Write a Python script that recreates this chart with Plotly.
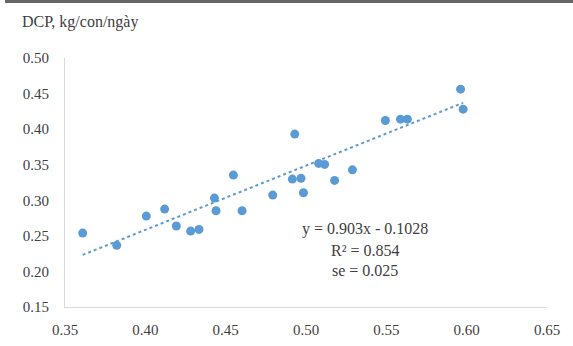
import plotly.graph_objects as go

# Data
x_vals = [0.3610, 0.3822, 0.4006, 0.4120, 0.4193, 0.4282, 0.4334, 0.4430, 0.4440,
          0.4548, 0.4602, 0.4793, 0.4930, 0.4915, 0.4969, 0.4984, 0.5079, 0.5116,
          0.5178, 0.5289, 0.5494, 0.5588, 0.5631, 0.5962, 0.5978]
y_vals = [0.2539, 0.2367, 0.2778, 0.2876, 0.2638, 0.2567, 0.2591, 0.3031, 0.2853,
          0.3354, 0.2853, 0.3073, 0.3930, 0.3298, 0.3308, 0.3106, 0.3518, 0.3504,
          0.3279, 0.3428, 0.4122, 0.4140, 0.4140, 0.4562, 0.4281]

slope = 0.903
intercept = -0.1028
eq_lines = ["y = 0.903x - 0.1028", "R² = 0.854", "se = 0.025"]
y_title = "DCP, kg/con/ngày"
x_ticks = [0.35, 0.40, 0.45, 0.50, 0.55, 0.60, 0.65]
y_ticks = [0.15, 0.20, 0.25, 0.30, 0.35, 0.40, 0.45, 0.50]

BLUE = "#5B9BD5"
TXT = "#404040"
FONT = "Liberation Serif"

x_min, x_max = min(x_vals), max(x_vals)
trend_x = [x_min, x_max]
trend_y = [slope * v + intercept for v in trend_x]

fig = go.Figure()
fig.add_trace(go.Scatter(x=trend_x, y=trend_y, mode="lines",
                         line=dict(color=BLUE, width=2, dash="dot"),
                         hoverinfo="skip", showlegend=False))
fig.add_trace(go.Scatter(x=x_vals, y=y_vals, mode="markers",
                         marker=dict(color=BLUE, size=9, line=dict(width=0)),
                         showlegend=False))

fig.update_layout(
    width=573, height=346,
    margin=dict(l=65, r=26, t=58, b=39),
    paper_bgcolor="white", plot_bgcolor="white",
    font=dict(family=FONT, size=15, color=TXT),
    showlegend=False,
)
fig.update_xaxes(range=[0.35, 0.65], tickvals=x_ticks,
                 ticktext=[f"{v:.2f}" for v in x_ticks],
                 showgrid=False, zeroline=False, automargin=False,
                 showline=True, linecolor="#D9D9D9", linewidth=1,
                 ticks="outside", ticklen=9, tickcolor="rgba(0,0,0,0)",
                 tickfont=dict(family=FONT, size=15, color=TXT))
fig.update_yaxes(range=[0.15, 0.50], tickvals=y_ticks,
                 ticktext=[f"{v:.2f}" for v in y_ticks],
                 showgrid=False, zeroline=False, automargin=False,
                 showline=True, linecolor="#D9D9D9", linewidth=1,
                 ticks="outside", ticklen=12, tickcolor="rgba(0,0,0,0)",
                 tickfont=dict(family=FONT, size=15, color=TXT))

# Axis title at top-left
fig.add_annotation(text=y_title, xref="paper", yref="paper",
                   x=-45 / 482, y=1 + 36 / 249, xanchor="left", yanchor="middle",
                   showarrow=False, font=dict(family=FONT, size=16, color=TXT))

# Equation label
eq_y = [0.2596, 0.2301, 0.2020]
for txt, yy in zip(eq_lines, eq_y):
    fig.add_annotation(text=txt, x=0.5368, y=yy, xref="x", yref="y",
                       xanchor="center", yanchor="middle", showarrow=False,
                       font=dict(family=FONT, size=16, color=TXT))

# top border line (cropped frame)
fig.add_shape(type="rect", xref="paper", yref="paper",
              x0=-60 / 482, x1=1 + 26 / 482, y0=1 + 55 / 249, y1=1 + 58 / 249,
              line=dict(width=0), fillcolor="#666666", layer="above")

fig.write_html("out.html", config={"displayModeBar": False},
               post_script="document.body.style.margin='0';document.body.style.padding='0';")
